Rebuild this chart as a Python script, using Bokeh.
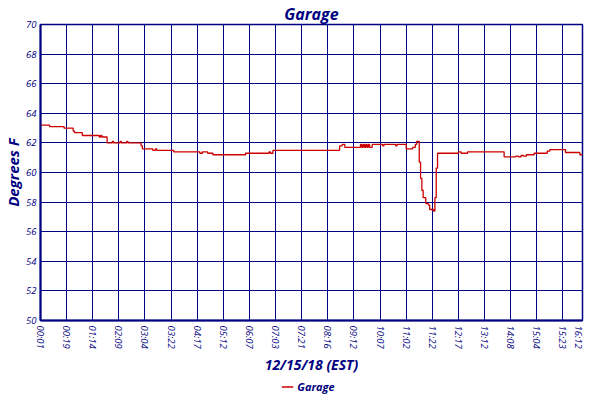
from bokeh.plotting import figure
from bokeh.layouts import column
from bokeh.models import FixedTicker, Range1d, Legend, LegendItem, ColumnDataSource
from bokeh.embed import file_html
from bokeh.resources import INLINE

# Sample index (reading number) where the temperature changes, and the reading (deg F)
sample_idx = [0, 7, 18, 25, 26, 32, 45, 46, 47, 51,
              55, 56, 61, 62, 66, 67, 77, 78, 86, 88,
              89, 102, 122, 124, 128, 132, 157, 175, 176, 178,
              229, 231, 233, 245, 246, 247, 248, 249, 250, 251,
              252, 254, 262, 263, 272, 273, 280, 285, 287, 288,
              290, 291, 292, 293, 295, 297, 298, 299, 301, 302,
              303, 304, 305, 320, 322, 327, 355, 364, 366, 368,
              370, 372, 378, 388, 390, 402, 413, 415]
temp_f = [63.2, 63.1, 63.0, 62.8, 62.7, 62.5, 62.4, 62.5, 62.4, 62.0,
          62.1, 62.0, 62.1, 62.0, 62.1, 62.0, 61.8, 61.6, 61.5, 61.6,
          61.5, 61.4, 61.3, 61.4, 61.3, 61.2, 61.3, 61.4, 61.3, 61.5,
          61.8, 61.9, 61.7, 61.9, 61.7, 61.9, 61.7, 61.9, 61.7, 61.9,
          61.7, 61.9, 61.8, 61.9, 61.8, 61.9, 61.6, 61.7, 61.9, 62.1,
          60.7, 59.6, 58.8, 58.3, 57.9, 57.8, 57.5, 57.5, 57.4, 58.3,
          60.3, 61.3, 61.3, 61.4, 61.3, 61.4, 61.05, 61.1, 61.05, 61.15,
          61.1, 61.2, 61.3, 61.45, 61.55, 61.35, 61.2, 61.2]

tick_pos = [0, 20, 40, 60, 80, 100, 120, 140, 160, 180, 200,
            220, 240, 260, 280, 300, 320, 340, 360, 380, 400, 415]
tick_labels = ["00:01", "00:19", "01:14", "02:09", "03:04", "03:22", "04:17",
               "05:12", "06:07", "07:03", "07:21", "08:16", "09:12", "10:07",
               "11:02", "11:22", "12:17", "13:12", "14:08", "15:04", "15:23", "16:12"]
y_ticks = [50, 52, 54, 56, 58, 60, 62, 64, 66, 68, 70]

NAVY = "#000080"
RED = "#cc0000"
FONT = "Open Sans"

src = ColumnDataSource(data=dict(x=sample_idx, y=temp_f))

p = figure(frame_width=542, frame_height=296, output_backend="svg", toolbar_location=None,
           x_range=Range1d(0, 415), y_range=Range1d(50, 70),
           title="Garage", min_border_left=0, min_border_right=2,
           min_border_top=0, min_border_bottom=0)
p.background_fill_color = "white"
p.border_fill_color = "white"
p.outline_line_color = NAVY
p.outline_line_width = 1.5

p.title.align = "center"
p.title.text_font = FONT
p.title.text_font_size = "16px"
p.title.text_font_style = "bold italic"
p.title.text_color = NAVY
p.title.standoff = 0
p.title.offset = 0

r = p.step("x", "y", source=src, mode="after", line_color=RED, line_width=1.3)

p.xaxis.ticker = FixedTicker(ticks=tick_pos)
p.xaxis.major_label_overrides = {t: l for t, l in zip(tick_pos, tick_labels)}
p.xaxis.major_label_orientation = "vertical"
p.yaxis.ticker = FixedTicker(ticks=y_ticks)
p.xgrid.ticker = FixedTicker(ticks=tick_pos)
p.ygrid.ticker = FixedTicker(ticks=y_ticks)

for ax in (p.xaxis[0], p.yaxis[0]):
    ax.axis_line_color = NAVY
    ax.axis_line_width = 2
    ax.major_tick_in = 0
    ax.major_tick_out = 0
    ax.minor_tick_line_color = None
    ax.major_label_text_font = FONT
    ax.major_label_text_font_size = "9.5px"
    ax.major_label_text_font_style = "italic"
    ax.major_label_text_color = NAVY
    ax.axis_label_text_font = FONT
    ax.axis_label_text_font_style = "bold italic"
    ax.axis_label_text_color = NAVY

p.xaxis.axis_label = "12/15/18 (EST)"
p.xaxis.axis_label_text_font_size = "14px"
p.xaxis.major_label_standoff = 5
p.xaxis.axis_label_standoff = 3
p.yaxis.axis_label = "Degrees F"
p.yaxis.axis_label_text_font_size = "15px"
p.yaxis.major_label_standoff = 4
p.yaxis.axis_label_standoff = 0

for g in (p.xgrid[0], p.ygrid[0]):
    g.grid_line_color = NAVY
    g.grid_line_width = 1
    g.grid_line_alpha = 1

# Legend strip under the chart (its own small figure; the series sits outside its ranges)
lf = figure(width=578, height=20, output_backend="svg", toolbar_location=None,
            x_range=Range1d(0, 1), y_range=Range1d(0, 1),
            min_border_left=0, min_border_right=0, min_border_top=0, min_border_bottom=0)
lf.axis.visible = False
lf.grid.visible = False
lf.outline_line_color = None
lf.background_fill_color = "white"
lf.border_fill_color = "white"
r_key = lf.step("x", "y", source=src, mode="after", line_color=RED, line_width=1.3)

legend = Legend(items=[LegendItem(label="Garage", renderers=[r_key])],
                orientation="horizontal", location="center",
                border_line_alpha=0, background_fill_alpha=0,
                label_text_font=FONT, label_text_font_size="11px",
                label_text_font_style="bold italic", label_text_color=NAVY,
                glyph_width=12, glyph_height=10, label_standoff=4,
                label_height=12, padding=0, margin=0, spacing=0)
lf.add_layout(legend, "center")

layout = column(p, lf, spacing=0)
open("out.html", "w").write(file_html(layout, INLINE))
